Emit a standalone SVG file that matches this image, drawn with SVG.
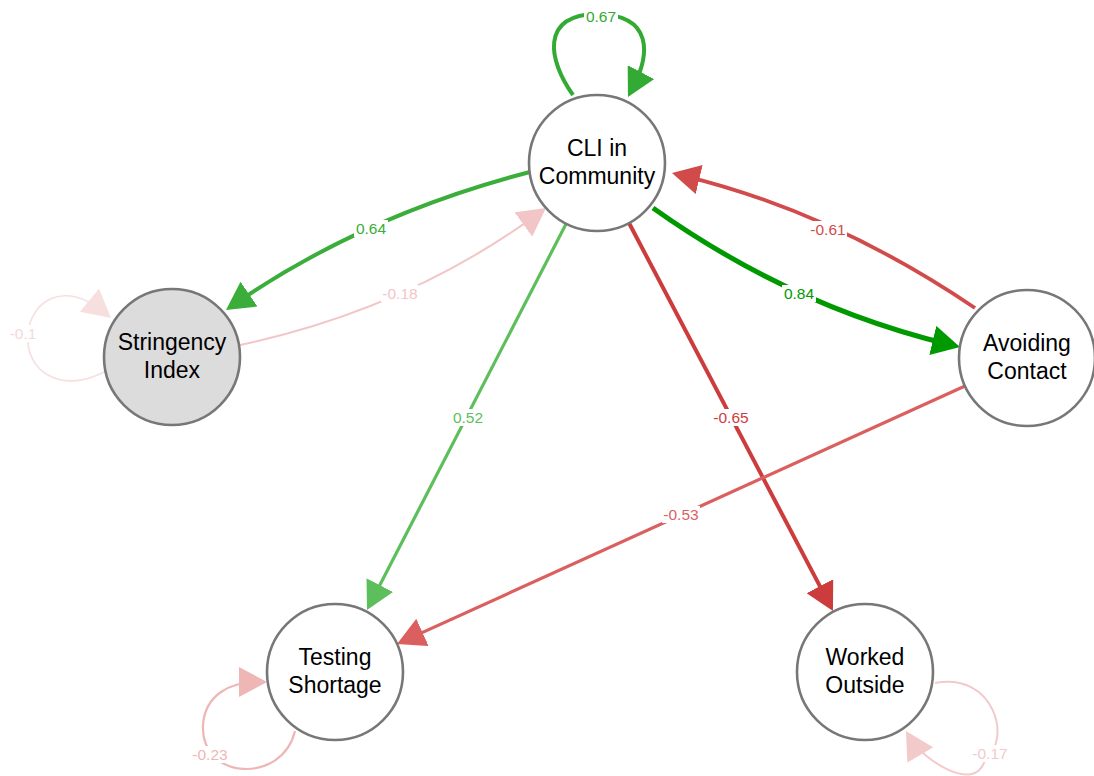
<svg xmlns="http://www.w3.org/2000/svg" width="1094" height="776" viewBox="0 0 1094 776">
  <style>
    .node circle { fill: #ffffff; stroke: #777777; stroke-width: 2.6; }
    .node.latent circle { fill: #dcdcdc; }
    .node text { font-family: "Liberation Sans", Arial, sans-serif; font-size: 23px; fill: #000000; text-anchor: middle; }
    .edge { fill: none; stroke-linecap: butt; }
    .elabel text { font-family: "Liberation Sans", Arial, sans-serif; font-size: 15.5px; text-anchor: middle; }
    .elabel rect { fill: #ffffff; }
  </style>
  <defs>
    <marker id="ah-g84" viewBox="0 0 28 30" refX="18" refY="15" markerWidth="28" markerHeight="30" markerUnits="userSpaceOnUse" orient="auto"><path d="M0,0 L28,15 L0,30 Z" fill="#009900"/></marker>
    <marker id="ah-g67" viewBox="0 0 28 30" refX="18" refY="15" markerWidth="28" markerHeight="30" markerUnits="userSpaceOnUse" orient="auto"><path d="M0,0 L28,15 L0,30 Z" fill="#33aa33"/></marker>
    <marker id="ah-g64" viewBox="0 0 28 30" refX="18" refY="15" markerWidth="28" markerHeight="30" markerUnits="userSpaceOnUse" orient="auto"><path d="M0,0 L28,15 L0,30 Z" fill="#3aad3a"/></marker>
    <marker id="ah-g52" viewBox="0 0 28 30" refX="18" refY="15" markerWidth="28" markerHeight="30" markerUnits="userSpaceOnUse" orient="auto"><path d="M0,0 L28,15 L0,30 Z" fill="#5cbf5c"/></marker>
    <marker id="ah-r65" viewBox="0 0 28 30" refX="18" refY="15" markerWidth="28" markerHeight="30" markerUnits="userSpaceOnUse" orient="auto"><path d="M0,0 L28,15 L0,30 Z" fill="#cd3c3c"/></marker>
    <marker id="ah-r61" viewBox="0 0 28 30" refX="18" refY="15" markerWidth="28" markerHeight="30" markerUnits="userSpaceOnUse" orient="auto"><path d="M0,0 L28,15 L0,30 Z" fill="#d24b4b"/></marker>
    <marker id="ah-r53" viewBox="0 0 28 30" refX="18" refY="15" markerWidth="28" markerHeight="30" markerUnits="userSpaceOnUse" orient="auto"><path d="M0,0 L28,15 L0,30 Z" fill="#db5f5f"/></marker>
    <marker id="ah-r23" viewBox="0 0 28 30" refX="18" refY="15" markerWidth="28" markerHeight="30" markerUnits="userSpaceOnUse" orient="auto"><path d="M0,0 L28,15 L0,30 Z" fill="#efb6b6"/></marker>
    <marker id="ah-r18" viewBox="0 0 28 30" refX="18" refY="15" markerWidth="28" markerHeight="30" markerUnits="userSpaceOnUse" orient="auto"><path d="M0,0 L28,15 L0,30 Z" fill="#f2c6c6"/></marker>
    <marker id="ah-r17" viewBox="0 0 28 30" refX="18" refY="15" markerWidth="28" markerHeight="30" markerUnits="userSpaceOnUse" orient="auto"><path d="M0,0 L28,15 L0,30 Z" fill="#f3caca"/></marker>
    <marker id="ah-r10" viewBox="0 0 28 30" refX="18" refY="15" markerWidth="28" markerHeight="30" markerUnits="userSpaceOnUse" orient="auto"><path d="M0,0 L28,15 L0,30 Z" fill="#f7dfdf"/></marker>
  </defs>

  <!-- connectors -->
  <g id="edges">
    <!-- self loops -->
    <path class="edge" d="M573,95 C548,60 540,15 597,14 C654,15 650,55 632.6,88.1" stroke="#33aa33" stroke-width="4" marker-end="url(#ah-g67)"/>
    <path class="edge" d="M104,372 C60,395 25,370 28,335 C30,300 65,280 103.3,311.6" stroke="#f7dfdf" stroke-width="1.6" marker-end="url(#ah-r10)"/>
    <path class="edge" d="M295,731 C282,785 200,780 203,725 C205,695 230,682 257,682" stroke="#efb6b6" stroke-width="2.2" marker-end="url(#ah-r23)"/>
    <path class="edge" d="M935,683 C995,672 1012,740 985,760 C975,795 922,758 911.1,739.6" stroke="#f3caca" stroke-width="2" marker-end="url(#ah-r17)"/>
    <!-- curved pairs -->
    <path class="edge" d="M530,172 Q364,215 234.2,304.3" stroke="#3aad3a" stroke-width="4" marker-end="url(#ah-g64)"/>
    <path class="edge" d="M240,345 Q407,309.5 537.9,213.9" stroke="#f2c6c6" stroke-width="2" marker-end="url(#ah-r18)"/>
    <path class="edge" d="M653,208 Q791.5,306.5 950.3,344.7" stroke="#009900" stroke-width="5" marker-end="url(#ah-g84)"/>
    <path class="edge" d="M975,308 Q832.5,211.5 681.7,175.3" stroke="#d24b4b" stroke-width="3.8" marker-end="url(#ah-r61)"/>
    <!-- straight -->
    <path class="edge" d="M566,224 L371.6,601.1" stroke="#5cbf5c" stroke-width="3.2" marker-end="url(#ah-g52)"/>
    <path class="edge" d="M629,223 L828.3,602.1" stroke="#cd3c3c" stroke-width="4" marker-end="url(#ah-r65)"/>
    <path class="edge" d="M965,386 L406.1,639.9" stroke="#db5f5f" stroke-width="3.2" marker-end="url(#ah-r53)"/>
  </g>

  <!-- edge weights -->
  <g id="edge-labels" class="elabel">
    <rect x="584" y="8" width="34" height="17"/><text x="601" y="21.5" fill="#33aa33">0.67</text>
    <rect x="354" y="220" width="34" height="17"/><text x="371" y="233.5" fill="#3aad3a">0.64</text>
    <rect x="381" y="285" width="38" height="17"/><text x="400" y="298.5" fill="#f2c6c6">-0.18</text>
    <rect x="8" y="325" width="31" height="17"/><text x="23" y="338.5" fill="#f5d9d9">-0.1</text>
    <rect x="451" y="409" width="34" height="17"/><text x="468" y="422.5" fill="#5cbf5c">0.52</text>
    <rect x="712" y="409" width="38" height="17"/><text x="731" y="422.5" fill="#cd3c3c">-0.65</text>
    <rect x="782" y="285" width="34" height="17"/><text x="799" y="298.5" fill="#009900">0.84</text>
    <rect x="809" y="221" width="38" height="17"/><text x="828" y="234.5" fill="#d24b4b">-0.61</text>
    <rect x="662" y="506" width="38" height="17"/><text x="681" y="519.5" fill="#db5f5f">-0.53</text>
    <rect x="191" y="746" width="38" height="17"/><text x="210" y="759.5" fill="#efb6b6">-0.23</text>
    <rect x="971" y="745" width="38" height="17"/><text x="990" y="758.5" fill="#f3caca">-0.17</text>
  </g>

  <!-- nodes -->
  <g id="node-cli" class="node">
    <circle cx="597" cy="163" r="68"/>
    <text x="597" y="156">CLI in</text>
    <text x="597" y="184">Community</text>
  </g>
  <g id="node-stringency" class="node latent">
    <circle cx="172" cy="357" r="68"/>
    <text x="172" y="350">Stringency</text>
    <text x="172" y="378">Index</text>
  </g>
  <g id="node-avoiding" class="node">
    <circle cx="1027" cy="358" r="68"/>
    <text x="1027" y="351">Avoiding</text>
    <text x="1027" y="379">Contact</text>
  </g>
  <g id="node-testing" class="node">
    <circle cx="335" cy="672" r="68"/>
    <text x="335" y="665">Testing</text>
    <text x="335" y="693">Shortage</text>
  </g>
  <g id="node-worked" class="node">
    <circle cx="865" cy="672" r="68"/>
    <text x="865" y="665">Worked</text>
    <text x="865" y="693">Outside</text>
  </g>
</svg>
